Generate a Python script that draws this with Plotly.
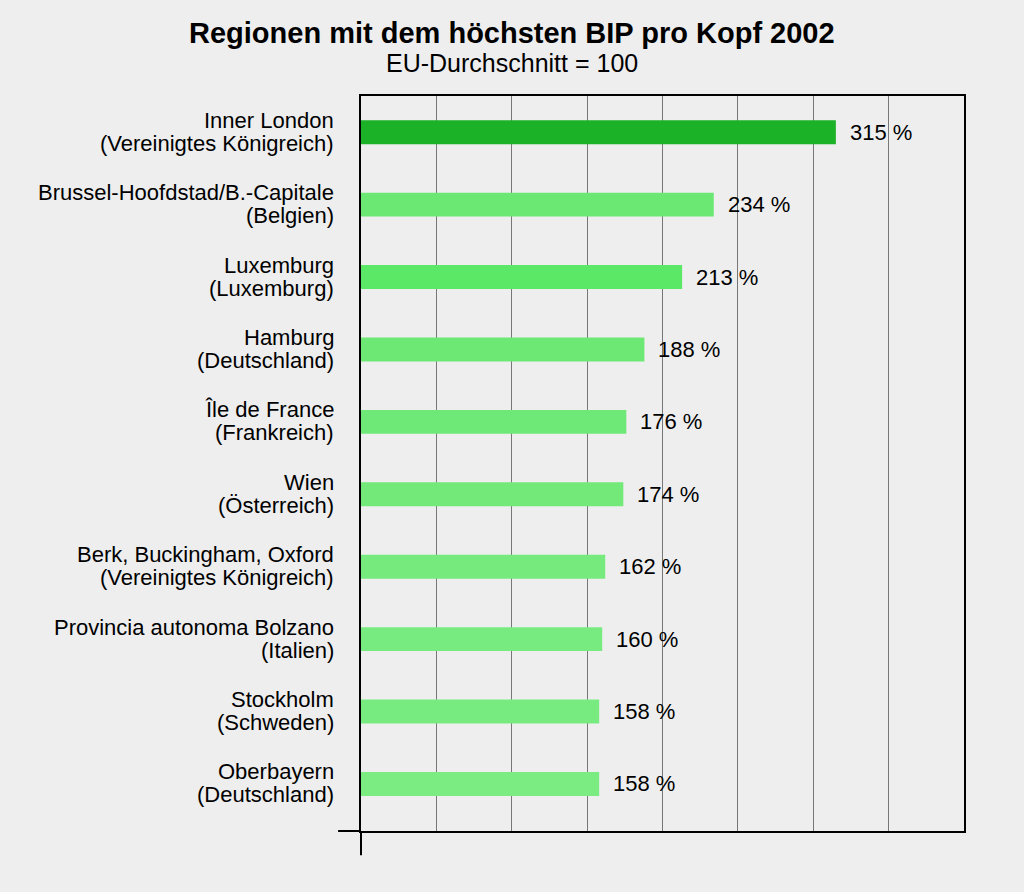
"""Regionen mit dem hoechsten BIP pro Kopf 2002 - horizontal bar chart."""

import plotly.graph_objects as go

region_names = [
    "Inner London",
    "Brussel-Hoofdstad/B.-Capitale",
    "Luxemburg",
    "Hamburg",
    "Île de France",
    "Wien",
    "Berk, Buckingham, Oxford",
    "Provincia autonoma Bolzano",
    "Stockholm",
    "Oberbayern",
]
countries = [
    "(Vereinigtes Königreich)",
    "(Belgien)",
    "(Luxemburg)",
    "(Deutschland)",
    "(Frankreich)",
    "(Österreich)",
    "(Vereinigtes Königreich)",
    "(Italien)",
    "(Schweden)",
    "(Deutschland)",
]
gdp_index = [315, 234, 213, 188, 176, 174, 162, 160, 158, 158]
value_labels = [f"{v} %" for v in gdp_index]
bar_colors = [
    "#1bb228", "#6be874", "#5be866", "#6de874", "#6ee876",
    "#73e97a", "#76ea7d", "#77eb7f", "#78eb80", "#7aec82",
]

FONT = "Liberation Sans, Arial, sans-serif"
categories = [f"{r} {c}" for r, c in zip(region_names, countries)]

fig = go.Figure()
fig.add_trace(
    go.Bar(
        x=gdp_index,
        y=categories,
        orientation="h",
        width=0.33,
        marker={"color": bar_colors, "line": {"width": 0}},
        hoverinfo="x+y",
    )
)

for cat, name, country, value, label in zip(
    categories, region_names, countries, gdp_index, value_labels
):
    # value label right of the bar
    fig.add_annotation(
        x=value, y=cat, text=label, showarrow=False,
        xanchor="left", yanchor="middle", xshift=12,
        font={"size": 22, "color": "#000000", "family": FONT},
    )
    # two-line category label, tight line spacing
    fig.add_annotation(
        x=0, xref="paper", y=cat, text=name, showarrow=False,
        xanchor="right", yanchor="middle", xshift=-25, yshift=12,
        font={"size": 22, "color": "#000000", "family": FONT},
    )
    fig.add_annotation(
        x=0, xref="paper", y=cat, text=country, showarrow=False,
        xanchor="right", yanchor="middle", xshift=-25, yshift=-11,
        font={"size": 22, "color": "#000000", "family": FONT},
    )

fig.add_annotation(
    x=0.2504, xref="paper", y=1.086, yref="paper",
    xanchor="center", yanchor="middle",
    text="<b>Regionen mit dem höchsten BIP pro Kopf 2002</b>",
    showarrow=False, font={"size": 29, "color": "#000000", "family": FONT},
)
fig.add_annotation(
    x=0.2504, xref="paper", y=1.045, yref="paper",
    xanchor="center", yanchor="middle",
    text="EU-Durchschnitt = 100",
    showarrow=False, font={"size": 25, "color": "#000000", "family": FONT},
)

# axis lines sticking out past the origin
fig.add_shape(type="line", xref="paper", yref="paper", x0=-0.038, x1=0, y0=0, y1=0,
              line={"color": "#000000", "width": 2})
fig.add_shape(type="line", xref="paper", yref="paper", x0=0, x1=0, y0=0, y1=-0.033,
              line={"color": "#000000", "width": 2})

fig.update_xaxes(
    range=[0, 400],
    dtick=50,
    showticklabels=False,
    showgrid=True,
    gridcolor="#777777",
    gridwidth=1,
    zeroline=False,
    showline=True,
    linecolor="#000000",
    linewidth=2,
    mirror=True,
    fixedrange=True,
)
fig.update_yaxes(
    categoryorder="array",
    categoryarray=categories,
    range=[9.65, -0.5],
    showgrid=False,
    showticklabels=False,
    showline=True,
    linecolor="#000000",
    linewidth=2,
    mirror=True,
    ticks="",
    fixedrange=True,
)
fig.update_layout(
    width=1024,
    height=892,
    margin={"l": 361, "r": 60, "t": 96, "b": 61},
    paper_bgcolor="#eeeeee",
    plot_bgcolor="#eeeeee",
    showlegend=False,
    font={"family": FONT, "color": "#000000"},
)

fig.write_html(
    "out.html",
    config={"displayModeBar": False},
    post_script="document.body.style.margin='0';",
)
